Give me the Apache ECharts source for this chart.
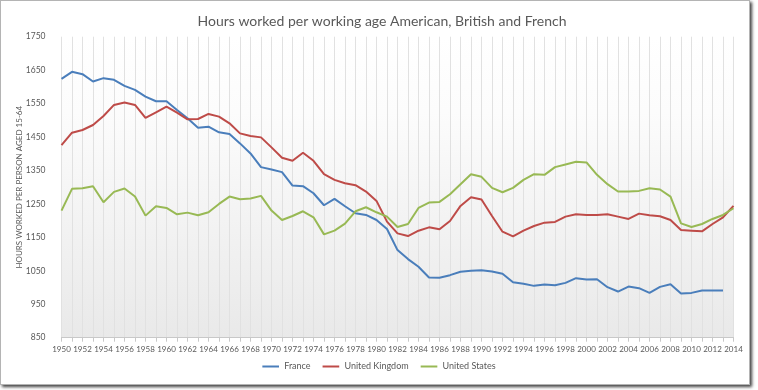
<!DOCTYPE html>
<html>
<head>
<meta charset="utf-8">
<script src="https://cdn.jsdelivr.net/npm/echarts@6/dist/echarts.min.js"></script>
<style>
  html, body { margin: 0; padding: 0; background: #ffffff; }
  #frame { position: absolute; left: 0; top: 0; width: 748px; height: 383px;
           border: 1px solid #b4b4b4; background: #fff;
           box-shadow: 2px 2px 3px rgba(0,0,0,0.75); }
  #chart { position: absolute; left: 0; top: 0; width: 758px; height: 390px; }
</style>
</head>
<body>
<div id="frame"></div>
<div id="chart"></div>
<script>
const years = [];
for (let y = 1950; y <= 2014; y++) years.push(String(y));

const yTicks = [850, 950, 1050, 1150, 1250, 1350, 1450, 1550, 1650, 1750];

const france = [
  1624,1645,1638,1616,1626,1621,1603,1591,1571,1557,1557,1531,1506,1478,1481,
  1464,1459,1431,1401,1360,1353,1345,1305,1303,1282,1246,1265,1243,
  1222,1217,1202,1175,1112,1085,1062,1030,1029,1037,1047,1050,
  1052,1048,1041,1016,1011,1005,1009,1007,1014,1028,1024,1025,
  1001,988,1003,998,984,1002,1010,982,984,991,991,991,null
];
const unitedKingdom = [
  1426,1463,1471,1486,1513,1546,1553,1546,1507,1524,1541,1523,1503,1504,1519,
  1511,1491,1461,1453,1449,1419,1388,1379,1403,1379,1339,1322,1312,
  1306,1287,1259,1197,1162,1154,1170,1180,1174,1199,1244,1270,
  1263,1214,1167,1153,1170,1184,1194,1196,1212,1219,1217,1217,
  1219,1212,1205,1221,1216,1213,1202,1172,1170,1168,1190,1210,1244
];
const unitedStates = [
  1230,1295,1297,1303,1255,1286,1296,1272,1215,1243,1238,1219,1224,1216,1225,
  1250,1272,1264,1266,1274,1230,1202,1214,1228,1210,1159,1170,1191,
  1228,1240,1225,1212,1181,1190,1238,1254,1256,1279,1309,1339,
  1331,1298,1285,1298,1322,1339,1337,1360,1368,1376,1374,1337,
  1309,1287,1287,1289,1297,1293,1272,1192,1181,1190,1205,1217,1237
];

const FONT = 'Lato';
const TXT = '#595959';

const chart = echarts.init(document.getElementById('chart'), null, { renderer: 'canvas' });
chart.setOption({
  backgroundColor: 'transparent',
  animation: false,
  title: {
    text: 'Hours worked per working age American, British and French',
    left: 377, top: 9, textAlign: 'center',
    textStyle: { fontFamily: FONT, fontSize: 14, fontWeight: 'normal', color: TXT }
  },
  legend: {
    bottom: 14, left: 'center',
    icon: 'path://M0,0 L1,0 L1,0.12 L0,0.12 Z',
    itemWidth: 21, itemHeight: 2, itemGap: 12,
    textStyle: { fontFamily: FONT, fontSize: 9, color: TXT, padding: [0, 0, 0, -2] },
    data: ['France', 'United Kingdom', 'United States']
  },
  grid: {
    left: 61.5, right: 24.5, top: 36.7, bottom: 52.3,
    show: true, borderWidth: 0,
    backgroundColor: {
      type: 'linear', x: 0, y: 0, x2: 0, y2: 1,
      colorStops: [
        { offset: 0, color: '#ffffff' },
        { offset: 0.25, color: '#fcfcfc' },
        { offset: 1, color: '#e9e9e9' }
      ]
    }
  },
  xAxis: {
    type: 'category',
    data: years,
    boundaryGap: false,
    axisLine: { show: true, lineStyle: { color: '#c8c8c8', width: 1 } },
    axisTick: { show: true, interval: 0, length: 4, lineStyle: { color: '#c8c8c8' } },
    axisLabel: { interval: 1, margin: 8, fontFamily: FONT, fontSize: 8, color: TXT },
    splitLine: { show: true, interval: 0, lineStyle: { color: '#e1e1e1', width: 1 } }
  },
  yAxis: {
    type: 'value',
    min: yTicks[0], max: yTicks[yTicks.length - 1], interval: 100,
    name: 'HOURS WORKED PER PERSON AGED 15-64',
    nameLocation: 'middle', nameGap: 38, nameRotate: 90, nameMoveOverlap: false,
    nameTextStyle: { fontFamily: FONT, fontSize: 8, color: TXT },
    axisLine: { show: false },
    axisTick: { show: false },
    splitLine: { show: false },
    axisLabel: { margin: 16, fontFamily: FONT, fontSize: 8.5, color: TXT,
      customValues: yTicks, formatter: function (v) { return String(v); } }
  },
  series: [
    { name: 'France', type: 'line', data: france, showSymbol: false, symbol: 'none',
      lineStyle: { color: '#4a7ebb', width: 2 }, itemStyle: { color: '#4a7ebb' } },
    { name: 'United Kingdom', type: 'line', data: unitedKingdom, showSymbol: false, symbol: 'none',
      lineStyle: { color: '#be4b48', width: 2 }, itemStyle: { color: '#be4b48' } },
    { name: 'United States', type: 'line', data: unitedStates, showSymbol: false, symbol: 'none',
      lineStyle: { color: '#98b954', width: 2 }, itemStyle: { color: '#98b954' } }
  ]
});
</script>
</body>
</html>
